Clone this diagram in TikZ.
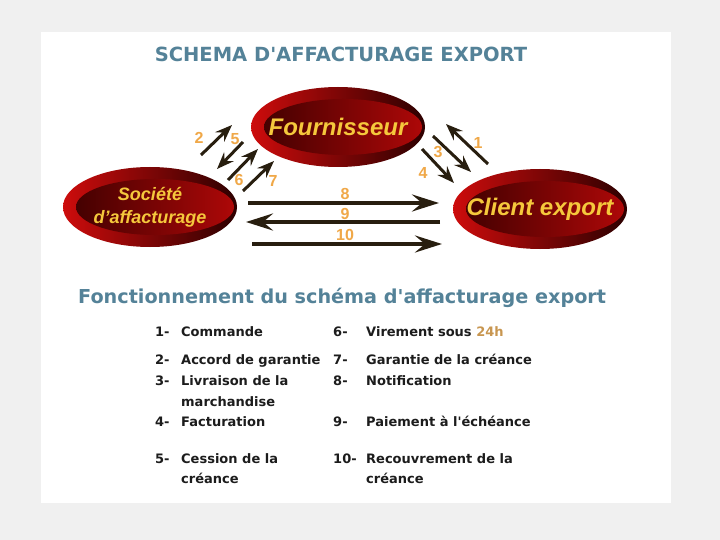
\documentclass[tikz,border=0pt]{standalone}
\usepackage{fontspec}
\setmainfont{DejaVu Sans}
\newfontfamily\arialfont{Liberation Sans}
\usetikzlibrary{shapes.geometric,arrows.meta}

\definecolor{panelgray}{RGB}{240,240,240}
\definecolor{titleblue}{RGB}{84,130,152}
\definecolor{ringred}{RGB}{205,12,12}
\definecolor{ringdark}{RGB}{45,0,0}
\definecolor{innerdark}{RGB}{60,0,0}
\definecolor{innerred}{RGB}{175,8,8}
\definecolor{labelyellow}{RGB}{245,200,60}
\definecolor{numorange}{RGB}{240,168,72}
\definecolor{arrowbrown}{RGB}{40,30,15}
\definecolor{listblack}{RGB}{28,28,28}
\definecolor{tan}{RGB}{200,150,80}

\begin{document}
\begin{tikzpicture}[x=1pt, y=-1pt]
    \tikzstyle{actor} = [ellipse, inner sep=0pt, minimum width=174pt, minimum height=80pt,
        left color=ringred, right color=ringdark, text=labelyellow, align=center,
        font=\arialfont\bfseries\itshape\fontsize{24}{26}\selectfont,
        path picture={\shade[left color=innerdark, right color=innerred]
            ([xshift=5pt]path picture bounding box.center) ellipse [x radius=79pt, y radius=28pt];}]
    \tikzstyle{line} = [draw=arrowbrown, line width=3pt, -{Stealth[length=17pt, width=13pt, inset=6pt]}]
    \tikzstyle{long} = [draw=arrowbrown, line width=4pt, -{Stealth[length=27pt, width=17pt, inset=10pt]}]
    \tikzstyle{num} = [text=numorange, inner sep=0pt, font=\arialfont\bfseries\fontsize{16}{16}\selectfont]
    \tikzstyle{heading} = [anchor=base west, inner sep=0pt, text=titleblue, font=\bfseries\fontsize{19.2}{21}\selectfont]
    \tikzstyle{item} = [anchor=base west, inner sep=0pt, text=listblack, font=\bfseries\fontsize{13}{15}\selectfont]

    % page and panel
    \fill [panelgray] (0,0) rectangle (720,540);
    \fill [white] (41,32) rectangle (671,503);

    \node [anchor=base, inner sep=0pt, text=titleblue, font=\bfseries\fontsize{19.5}{21}\selectfont]
        (title) at (341,62) {SCHEMA D\textquotesingle AFFACTURAGE EXPORT};

    % the three parties
    \node [actor] (fourn) at (338,127) {\makebox[0pt]{Fournisseur}};
    \node [actor, font=\arialfont\bfseries\itshape\fontsize{18}{23}\selectfont]
        (factor) at (150,207) {\makebox[0pt]{Société}\\\makebox[0pt]{d’affacturage}};
    \node [actor] (client) at (540,209) {\makebox[0pt]{Client export}};

    % fournisseur <-> factor
    \coordinate (t2) at (201,155); \coordinate (h2) at (232,125);
    \coordinate (t5) at (243,142); \coordinate (h5) at (217,169);
    \coordinate (t6) at (228,180); \coordinate (h6) at (258,149);
    \coordinate (t7) at (243,191); \coordinate (h7) at (274,161);
    \draw [line] (t2) -- (h2);
    \draw [line] (t5) -- (h5);
    \draw [line] (t6) -- (h6);
    \draw [line] (t7) -- (h7);
    \node [num] (n2) at (199,138) {2};
    \node [num] (n5) at (235,139) {5};
    \node [num] (n6) at (239,180) {6};
    \node [num] (n7) at (273,181) {7};

    % fournisseur <-> client
    \coordinate (t1) at (488,164); \coordinate (h1) at (446,124);
    \coordinate (t3) at (433,136); \coordinate (h3) at (471,172);
    \coordinate (t4) at (422,149); \coordinate (h4) at (454,183);
    \draw [line] (t1) -- (h1);
    \draw [line] (t3) -- (h3);
    \draw [line] (t4) -- (h4);
    \node [num] (n1) at (478,143) {1};
    \node [num] (n3) at (438,152) {3};
    \node [num] (n4) at (423,173) {4};

    % factor <-> client
    \coordinate (t8) at (248,203); \coordinate (h8) at (439,203);
    \coordinate (t9) at (440,222); \coordinate (h9) at (246,222);
    \coordinate (t10) at (252,244); \coordinate (h10) at (442,244);
    \draw [long] (t8) -- (h8);
    \draw [long] (t9) -- (h9);
    \draw [long] (t10) -- (h10);
    \node [num] (n8) at (345,194) {8};
    \node [num] (n9) at (345,214) {9};
    \node [num] (n10) at (345,235) {10};

    % legend
    \node [heading] (fonct) at (78,303) {Fonctionnement du schéma d\textquotesingle affacturage export};

    \node [item] (k1) at (155,336.5) {1-};   \node [item] (s1) at (181,336.5) {Commande};
    \node [item] (k2) at (155,364) {2-};     \node [item] (s2) at (181,364) {Accord de garantie};
    \node [item] (k3) at (155,385.5) {3-};   \node [item] (s3) at (181,385.5) {Livraison de la};
    \node [item] (s3b) at (181,406) {marchandise};
    \node [item] (k4) at (155,426) {4-};     \node [item] (s4) at (181,426) {Facturation};
    \node [item] (k5) at (155,463) {5-};     \node [item] (s5) at (181,463) {Cession de la};
    \node [item] (s5b) at (181,483.5) {créance};

    \node [item] (k6) at (333,336.5) {6-};   \node [item] (s6) at (366,336.5) {Virement sous \textcolor{tan}{24h}};
    \node [item] (k7) at (333,364) {7-};     \node [item] (s7) at (366,364) {Garantie de la créance};
    \node [item] (k8) at (333,385.5) {8-};   \node [item] (s8) at (366,385.5) {Notification};
    \node [item] (k9) at (333,426) {9-};     \node [item] (s9) at (366,426) {Paiement à l\textquotesingle échéance};
    \node [item] (k10) at (333,463) {10-};   \node [item] (s10) at (366,463) {Recouvrement de la};
    \node [item] (s10b) at (366,483.5) {créance};
\end{tikzpicture}
\end{document}
